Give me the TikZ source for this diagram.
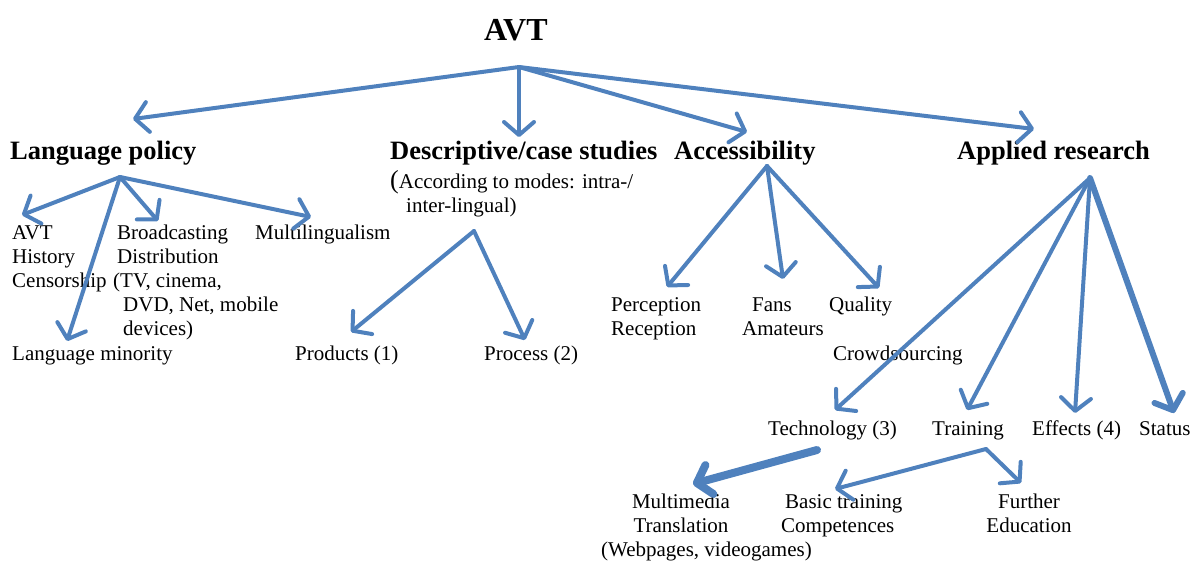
\documentclass[tikz,border=0pt]{standalone}
\usepackage{fontspec}
\setmainfont{Liberation Serif}
\usetikzlibrary{arrows.meta}

\definecolor{arrblue}{RGB}{79,129,189}

\tikzset{
  arr/.style={draw=arrblue, line width=4pt, line cap=round,
    -{Straight Barb[length=13pt,width=30pt,round]}},
  txt/.style={anchor=base west, inner sep=0pt, font=\fontsize{21}{24}\selectfont},
  head/.style={anchor=base west, inner sep=0pt, font=\fontsize{26.5}{30}\selectfont\bfseries},
}

\begin{document}
\begin{tikzpicture}[x=1pt,y=-1pt]
\useasboundingbox (0,0) rectangle (1190,560);

% headings
\node[head,font=\fontsize{32}{36}\selectfont\bfseries] (avt) at (484,40) {AVT};
\node[head] (lp) at (10,159) {Language policy};
\node[head] (desc) at (390,159) {Descriptive/case studies};
\node[head] (acc) at (674,159) {Accessibility};
\node[head] (app) at (957,159) {Applied research};

% multi-line nodes sit on their last baseline
\node[txt,align=left] (modes) at (390,212)
  {{\fontsize{26}{26}\selectfont(}According to modes: intra-/\\\hspace{16pt}inter-lingual)};

% language policy
\node[txt,align=left] (hist) at (12,287) {AVT\\History\\Censorship};
\node[txt,align=left] (bcast) at (113,335)
  {\hspace{4pt}Broadcasting\\\hspace{4pt}Distribution\\(TV, cinema,\\\hspace{10pt}DVD, Net, mobile\\\hspace{10pt}devices)};
\node[txt] (multi) at (255,239) {Multilingualism};
\node[txt] (lmin) at (12,360) {Language minority};

% descriptive
\node[txt] (prod) at (295,360) {Products (1)};
\node[txt] (proc) at (484,360) {Process (2)};

% accessibility
\node[txt,align=left] (perc) at (611,335) {Perception\\Reception};
\node[txt,align=left] (fans) at (742,335) {\hspace{10pt}Fans\\Amateurs};
\node[txt] (qual) at (829,311) {Quality};
\node[txt] (crowd) at (833,360) {Crowdsourcing};

% applied research
\node[txt] (tech) at (768,435) {Technology (3)};
\node[txt] (train) at (932,435) {Training};
\node[txt] (eff) at (1032,435) {Effects (4)};
\node[txt] (stat) at (1139,435) {Status};

\node[txt,align=center,anchor=base] (mmt) at (681,532) {Multimedia\\Translation};
\node[txt] (web) at (601,556) {(Webpages, videogames)};
\node[txt,align=left] (basic) at (781,532) {\hspace{4pt}Basic training\\Competences};
\node[txt,align=center,anchor=base] (further) at (1029,532) {Further\\Education};

% arrow origins
\coordinate (r0) at (519,67);
\coordinate (lp0) at (120,177);
\coordinate (desc0) at (474,231);
\coordinate (acc0) at (767,166);
\coordinate (app0) at (1090,178);
\coordinate (tech0) at (817,450);
\coordinate (train0) at (986,449);

% arrow tips
\coordinate (lp-t) at (133,119);
\coordinate (desc-t) at (519,137);
\coordinate (acc-t) at (747,132);
\coordinate (app-t) at (1034,129);
\coordinate (hist-t) at (22,215);
\coordinate (lmin-t) at (67,341);
\coordinate (bcast-t) at (158,221);
\coordinate (multi-t) at (311,217);
\coordinate (prod-t) at (351,332);
\coordinate (proc-t) at (525,340);
\coordinate (perc-t) at (667,287);
\coordinate (fans-t) at (783,279);
\coordinate (qual-t) at (879,288);
\coordinate (tech-t) at (835,410);
\coordinate (train-t) at (967,410);
\coordinate (eff-t) at (1075,413);
\coordinate (stat-t) at (1174,413);
\coordinate (mmt-t) at (693,484);
\coordinate (basic-t) at (835,489);
\coordinate (further-t) at (1021,483);

\foreach \t in {lp-t,desc-t,acc-t,app-t}
  \draw[arr] (r0) -- (\t);
\foreach \t in {hist-t,lmin-t,bcast-t,multi-t}
  \draw[arr] (lp0) -- (\t);
\foreach \t in {prod-t,proc-t}
  \draw[arr] (desc0) -- (\t);
\foreach \t in {perc-t,fans-t,qual-t}
  \draw[arr] (acc0) -- (\t);
\foreach \t in {tech-t,train-t,eff-t}
  \draw[arr] (app0) -- (\t);
\draw[arr,line width=6pt] (app0) -- (stat-t);
\draw[arr,line width=8pt] (tech0) -- (mmt-t);
\foreach \t in {basic-t,further-t}
  \draw[arr] (train0) -- (\t);

\end{tikzpicture}
\end{document}
